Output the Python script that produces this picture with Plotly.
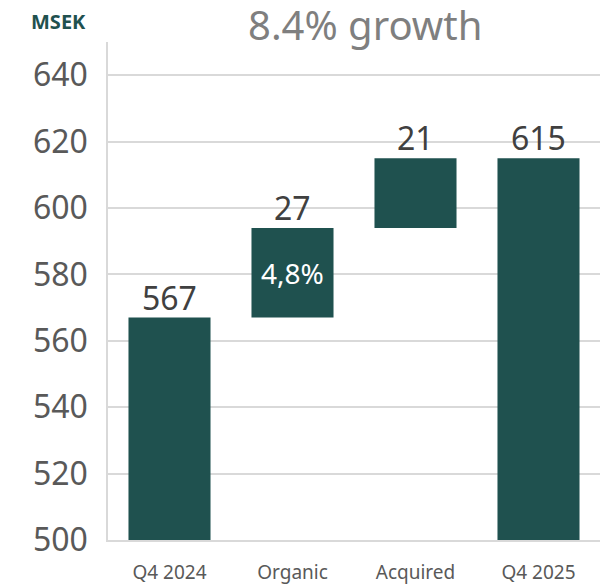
import plotly.graph_objects as go

categories = ["Q4 2024", "Organic", "Acquired", "Q4 2025"]
values = [567, 27, 21, 615]
kinds = ["total", "delta", "delta", "total"]
value_labels = ["567", "27", "21", "615"]
inner_labels = ["", "4,8%", "", ""]
y_ticks = [500, 520, 540, 560, 580, 600, 620, 640]
axis_min = 500
title_text = "8.4% growth"
unit_text = "MSEK"

BAR = "#1F514F"
GRAY = "#595959"
FONT = "Noto Sans"

bases, heights, tops = [], [], []
running = 0
for v, k in zip(values, kinds):
    if k == "total":
        bases.append(axis_min)
        heights.append(v - axis_min)
        running = v
        tops.append(v)
    else:
        bases.append(running)
        heights.append(v)
        running += v
        tops.append(running)

fig = go.Figure()
fig.add_trace(go.Bar(
    x=categories, y=heights, base=bases,
    marker=dict(color=BAR, line=dict(width=0)),
    width=0.667, hoverinfo="skip",
))

annotations = []
for c, t, lab in zip(categories, tops, value_labels):
    annotations.append(dict(x=c, y=t, text=lab, showarrow=False, yanchor="bottom",
                            yshift=-3, font=dict(family=FONT, size=32, color="#404040")))
for c, b, h, lab in zip(categories, bases, heights, inner_labels):
    if lab:
        annotations.append(dict(x=c, y=b + h / 2, text=lab, showarrow=False,
                                font=dict(family=FONT, size=28, color="white")))
annotations.append(dict(xref="paper", yref="paper", x=0.522, y=1.0, yshift=18,
                        text=title_text, showarrow=False, yanchor="middle",
                        font=dict(family=FONT, size=40, color="#7f7f7f")))
annotations.append(dict(xref="paper", yref="paper", x=-0.16, y=1.0, yshift=21,
                        xanchor="left", text="<b>" + unit_text + "</b>", showarrow=False,
                        yanchor="middle", font=dict(family=FONT, size=20, color=BAR)))

fig.update_layout(
    width=608, height=578,
    margin=dict(l=100, r=16, t=34, b=46, autoexpand=False),
    plot_bgcolor="white", paper_bgcolor="white",
    showlegend=False, bargap=0.333,
    annotations=annotations,
    font=dict(family=FONT, color=GRAY),
)
fig.update_yaxes(range=[500, 650], tickvals=y_ticks, showgrid=True, gridcolor="#d9d9d9",
                 gridwidth=1.5, showline=True, linecolor="#d9d9d9", linewidth=1.5,
                 ticks="", ticklabelstandoff=12, automargin=False,
                 tickfont=dict(family=FONT, size=32, color=GRAY), zeroline=False)
fig.update_xaxes(showline=True, linecolor="#d9d9d9", linewidth=1.5, ticks="",
                 ticklabelstandoff=14, automargin=False,
                 tickfont=dict(family=FONT, size=19, color=GRAY))

fig.write_html("out.html")
